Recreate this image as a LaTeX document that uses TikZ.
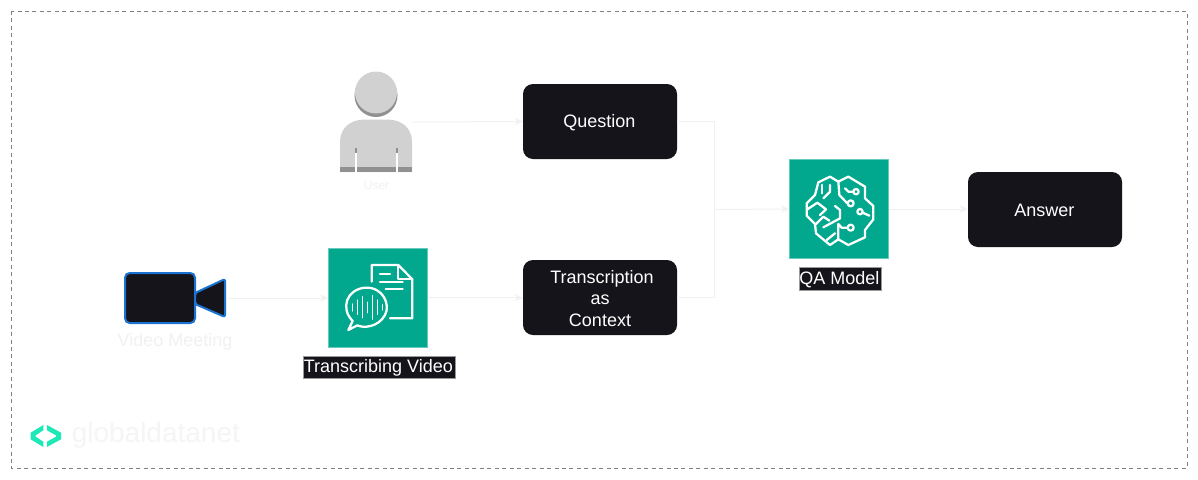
\documentclass[tikz,border=0pt]{standalone}
\usepackage{fontspec}
\setmainfont{Liberation Sans}
\usetikzlibrary{arrows.meta}
\definecolor{darkbox}{HTML}{16141B}
\definecolor{faint}{HTML}{F1F1F1}
\definecolor{awsgreen}{HTML}{01A88D}
\definecolor{camblue}{HTML}{1A73D0}
\definecolor{mint}{HTML}{1DE9B6}
\newcommand{\lowstrut}{\rule{0pt}{11.2pt}}
\tikzset{
  x=0.75pt,y=-0.75pt,
  blackbox/.style={draw=none,fill=darkbox,rounded corners=7.5pt,minimum width=115.5pt,minimum height=56.25pt,inner sep=0pt,align=center,text=white,font=\fontsize{13.5}{16}\selectfont},
  tile/.style={draw=awsgreen!60!white,line width=0.5pt,fill=awsgreen,minimum width=74.5pt,minimum height=74.5pt,inner sep=0pt},
  tag/.style={fill=darkbox,text=white,inner sep=0pt,font=\fontsize{13.5}{16}\selectfont},
  ghostbox/.style={draw=none,inner sep=0pt},
  link/.style={draw=faint,line width=0.75pt,-{Stealth[length=6pt,width=5.5pt]}},
  plain/.style={draw=faint,line width=0.75pt},
  icon/.style={draw=white,line width=1.7pt,line join=round,line cap=round},
  wave/.style={draw=white,line width=1.1pt,line cap=round},
}
\begin{document}
\begin{tikzpicture}
\useasboundingbox (0,0) rectangle (1198,479);
\fill[white] (0,0) rectangle (1198,479);
\draw[draw=black!50,line width=0.6pt,dash pattern=on 3pt off 2.6pt] (11,11) rectangle (1187,468);

% boxes
\node[blackbox] (question) at (600,121.5) {\lowstrut Question\hspace*{1pt}};
\node[blackbox] (context) at (600,297.5) {\rule{3pt}{0pt}\lowstrut Transcription\\as\\Context};
\node[blackbox] (answer) at (1045,209.5) {\lowstrut Answer\hspace*{1pt}};
\node[tile] (transcribe) at (378,297.7) {};
\node[tile] (qa) at (839,209) {};
\node[tag,minimum width=114pt,minimum height=16.5pt,draw=black!40,line width=0.3pt] (tlabel) at (379,367) {\lowstrut Transcribing Video\hspace*{1pt}};
\node[tag,minimum width=61.5pt,minimum height=17.25pt,draw=black!40,line width=0.5pt] (qlabel) at (840,278.5) {\lowstrut QA Model\hspace*{1pt}};

% user
\fill[black!43] (376,95.5) circle[radius=21.5];
\fill[black!18] (376,92.5) circle[radius=21];
\fill[black!18] (340,172) -- (340,142) .. controls (340,128) and (350,120) .. (364,119.5) -- (388,119.5) .. controls (402,120) and (412,128) .. (412,142) -- (412,172) -- cycle;
\fill[black!43] (340,167) rectangle (412,172);
\fill[black!43] (354.5,148) rectangle (356.5,153);
\fill[black!43] (395.5,148) rectangle (397.5,153);
\fill[white] (354.5,153) rectangle (356.5,172.5);
\fill[white] (395.5,153) rectangle (397.5,172.5);
\node[ghostbox,minimum width=54pt,minimum height=75pt] (user) at (376,122) {};
\node[text=faint,inner sep=0pt,font=\fontsize{9}{11}\selectfont] (userlabel) at (376.5,185) {User};

% camera
\draw[camblue,fill=darkbox,line width=1.5pt,rounded corners=3.5pt] (125,273) rectangle (195,323);
\draw[camblue,fill=darkbox,line width=1.5pt,line join=round,rounded corners=1.5pt] (195,293) -- (225,279) -- (225,317) -- (195,304) -- cycle;
\node[ghostbox,minimum width=79pt,minimum height=38pt] (video) at (175,298) {};
\node[text=faint,inner sep=0pt,font=\fontsize{13.5}{16}\selectfont] (vlabel) at (175,341.5) {Video Meeting};

% connectors
\coordinate (joint) at (714,209.5);
\draw[link] (user.east) -- (question.west);
\draw[link] (video.east) -- (video.east -| transcribe.west);
\draw[link] (transcribe.east) -- (transcribe.east -| context.west);
\draw[plain] (question.east) -| (joint);
\draw[plain] (context.east) -| (joint);
\draw[link] (joint) -- (qa.west);
\draw[link] (qa.east) -- (qa.east -| answer.west);

% transcribe icon (zoom coordinates)
\begin{scope}[shift={(320,240)},x=0.25pt,y=-0.25pt]
  \draw[icon] (155,125) -- (155,75) -- (235,75) -- (277,118) -- (277,235) -- (210,235);
  \draw[icon] (235,75) -- (235,118) -- (277,118);
  \draw[icon] (180,103) -- (210,103);
  \draw[icon] (180,127) -- (248,127);
  \draw[icon] (197,146) -- (248,146);
  \draw[icon] (85,270) -- (98,243) .. controls (60,205) and (80,148) .. (135,143) .. controls (190,140) and (212,195) .. (195,225) .. controls (175,262) and (130,265) .. (112,256) -- cycle;
  \draw[wave] (97,192) -- (97,213);
  \draw[wave] (112,180) -- (112,223);
  \draw[wave] (127,170) -- (127,233);
  \draw[wave] (142,187) -- (142,218);
  \draw[wave] (157,167) -- (157,238);
  \draw[wave] (172,180) -- (172,223);
  \draw[wave] (187,194) -- (187,210);
\end{scope}

% brain icon (zoom coordinates)
\begin{scope}[shift={(780,150)},x=0.25pt,y=-0.25pt]
  \draw[icon] (175,95) -- (150,80) -- (115,97) -- (105,135) -- (80,160) -- (80,197) -- (105,222) -- (108,250) -- (150,285) -- (175,268) -- (205,285) -- (255,262) -- (255,240) -- (280,208) -- (280,168) -- (255,145) -- (255,110) -- (205,80) -- cycle;
  \draw[icon] (175,95) -- (178,135) -- (202,160);
  \draw[icon] (212,160) circle[radius=9];
  \draw[icon] (228,125) circle[radius=8];
  \draw[icon] (220,125) -- (205,125) -- (195,115);
  \draw[icon] (240,185) circle[radius=8];
  \draw[icon] (248,188) -- (268,197);
  \draw[icon] (212,233) circle[radius=9];
  \draw[icon] (203,233) -- (185,233) -- (175,222) -- (175,268);
  \draw[icon] (165,168) -- (180,180) -- (180,205) -- (130,232);
  \draw[icon] (150,105) -- (150,125) -- (130,145);
  \draw[icon] (125,105) -- (125,130);
  \draw[icon] (82,178) -- (112,158) -- (138,178) -- (120,195);
  \draw[icon] (108,222) -- (130,200) -- (148,212);
  \draw[icon] (140,270) -- (165,250);
\end{scope}

% logo
\fill[mint] (43.3,425) -- (30.7,432.7) -- (30.7,439.3) -- (43.3,447) -- (43.3,441.7) -- (35.7,436.7) -- (35.7,435.3) -- (43.3,430.3) -- cycle;
\fill[mint] (47,425) -- (61,432.7) -- (61,439.3) -- (47,447) -- (47,441.7) -- (56,436.7) -- (56,435.3) -- (47,430.3) -- cycle;
\node[anchor=west,text=faint!70!white,inner sep=0pt,font=\fontsize{21}{24}\selectfont] (logotext) at (71.5,435.5) {globaldatanet};
\end{tikzpicture}
\end{document}
